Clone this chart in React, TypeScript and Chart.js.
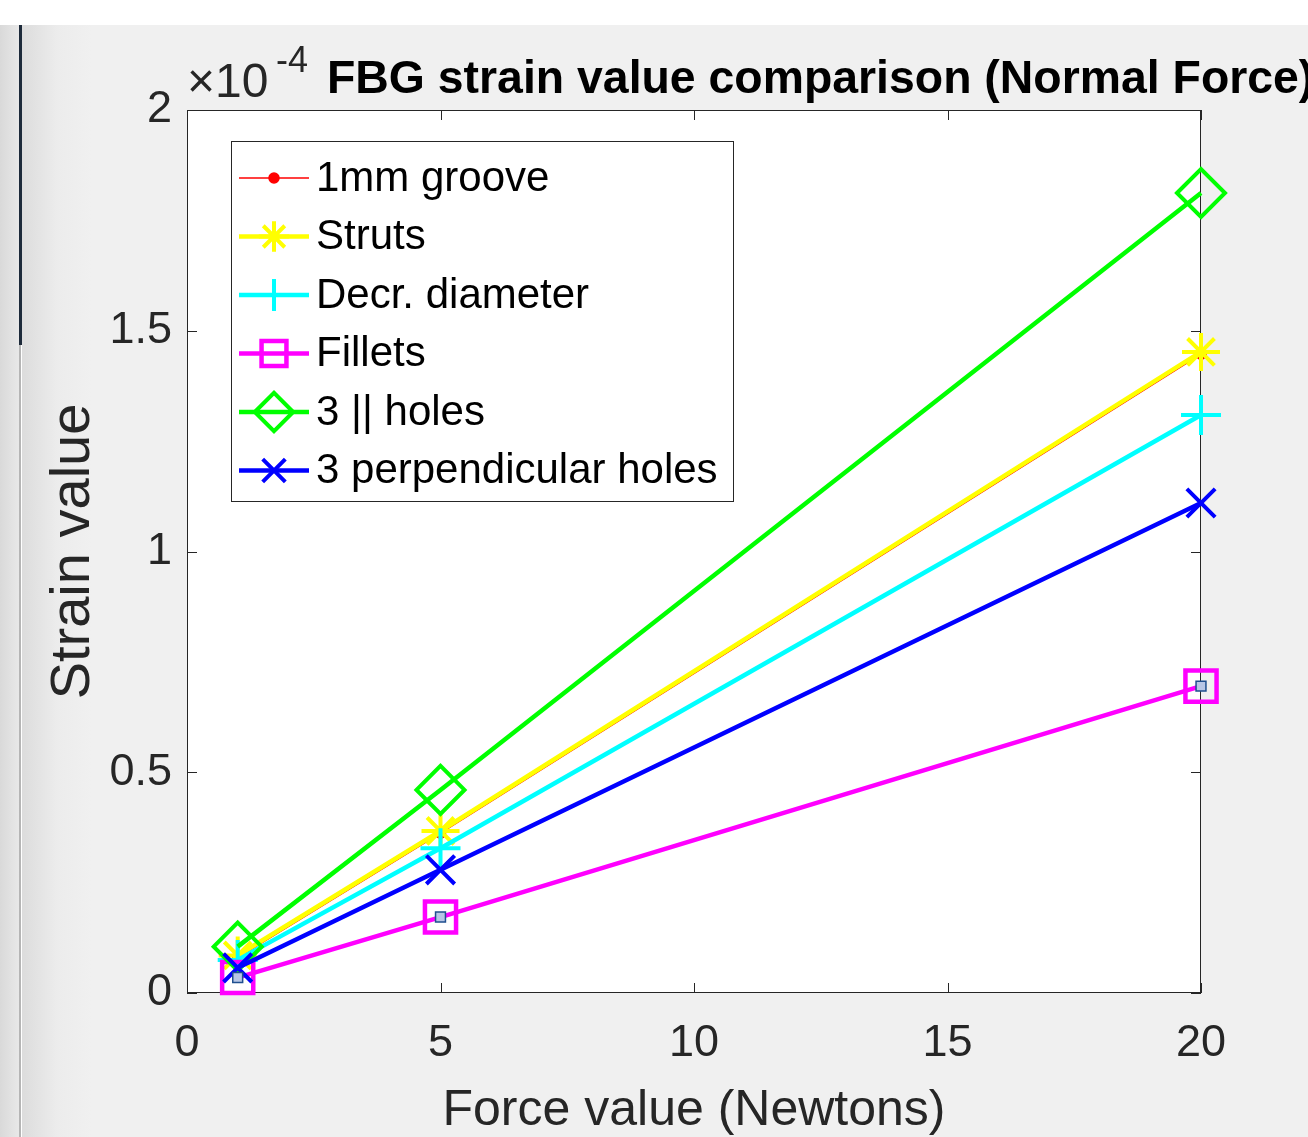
import React, { useEffect, useRef } from "react";
import { Chart, registerables } from "chart.js";
import { drawPoint } from "chart.js/helpers";

Chart.register(...registerables);

// ---- data (strain values in units of 1e-4) ----
const forces = [1, 5, 20];
const groove1mm = [0.08, 0.362, 1.447];
const struts = [0.085, 0.367, 1.452];
const decrDiameter = [0.075, 0.328, 1.309];
const fillets = [0.035, 0.172, 0.695];
const parallelHoles = [0.105, 0.46, 1.812];
const perpHoles = [0.057, 0.279, 1.11];
const seriesLabels = [
  "1mm groove",
  "Struts",
  "Decr. diameter",
  "Fillets",
  "3 || holes",
  "3 perpendicular holes",
];
const xTicks = [0, 5, 10, 15, 20];
const yTicks = [0, 0.5, 1, 1.5, 2];
const titleText = "FBG strain value comparison (Normal Force)";
const xTitle = "Force value (Newtons)";
const yTitle = "Strain value";

const FONT = "'Liberation Sans', Arial, Helvetica, sans-serif";
const AXIS_COLOR = "#262626";

const toPts = (ys: number[]) => forces.map((x, i) => ({ x, y: ys[i] }));

const styles = [
  { color: "#ff0000", style: "circle", radius: 5, bw: 1.5, lw: 1.5, fill: "#ff0000" },
  { color: "#ffff00", style: "star", radius: 19, bw: 4, lw: 4.5, fill: "transparent" },
  { color: "#00ffff", style: "cross", radius: 20, bw: 4, lw: 4.5, fill: "transparent" },
  { color: "#ff00ff", style: "rect", radius: 22, bw: 4.5, lw: 4.5, fill: "transparent" },
  { color: "#00ff00", style: "rectRot", radius: 24, bw: 4, lw: 4.5, fill: "transparent" },
  { color: "#0000ff", style: "crossRot", radius: 20, bw: 4, lw: 4.5, fill: "transparent" },
];
const seriesValues = [groove1mm, struts, decrDiameter, fillets, parallelHoles, perpHoles];

const decorPlugin = {
  id: "decor",
  beforeDatasetsDraw(chart: any) {
    const { ctx, chartArea: a } = chart;
    const xs = chart.scales.x;
    const ys = chart.scales.y;
    ctx.save();
    ctx.fillStyle = "#ffffff";
    ctx.fillRect(a.left, a.top, a.right - a.left, a.bottom - a.top);
    ctx.strokeStyle = AXIS_COLOR;
    ctx.lineWidth = 1;
    ctx.strokeRect(a.left + 0.5, a.top + 0.5, a.right - a.left - 1, a.bottom - a.top - 1);
    const tl = 10;
    ctx.beginPath();
    xTicks.forEach((v) => {
      const px = Math.round(xs.getPixelForValue(v)) + 0.5;
      ctx.moveTo(px, a.bottom);
      ctx.lineTo(px, a.bottom - tl);
      ctx.moveTo(px, a.top);
      ctx.lineTo(px, a.top + tl);
    });
    yTicks.forEach((v) => {
      const py = Math.round(ys.getPixelForValue(v)) + 0.5;
      ctx.moveTo(a.left, py);
      ctx.lineTo(a.left + tl, py);
      ctx.moveTo(a.right, py);
      ctx.lineTo(a.right - tl, py);
    });
    ctx.stroke();
    ctx.restore();
  },
  afterDatasetsDraw(chart: any) {
    const { ctx } = chart;
    // legend box
    const bx = 231, by = 141, bw = 502, bh = 360;
    ctx.save();
    ctx.fillStyle = "#ffffff";
    ctx.fillRect(bx, by, bw, bh);
    ctx.strokeStyle = AXIS_COLOR;
    ctx.lineWidth = 1;
    ctx.strokeRect(bx + 0.5, by + 0.5, bw, bh);
    const rowY0 = 178;
    const rowH = 58.5;
    chart.data.datasets.forEach((ds: any, i: number) => {
      if (ds.hiddenFromLegend) return;
      const y = rowY0 + i * rowH;
      const s = styles[i];
      ctx.strokeStyle = s.color;
      ctx.lineWidth = s.lw;
      ctx.beginPath();
      ctx.moveTo(239, y);
      ctx.lineTo(309, y);
      ctx.stroke();
      ctx.fillStyle = s.fill;
      ctx.lineWidth = s.bw;
      drawPoint(ctx, { pointStyle: s.style, rotation: 0, radius: s.style === "circle" ? 5 : s.radius * 0.8, borderWidth: s.bw } as any, 274, y);
      ctx.fillStyle = "#000000";
      ctx.font = `42px ${FONT}`;
      ctx.textAlign = "left";
      ctx.textBaseline = "middle";
      ctx.fillText(ds.label, 316, y + 1);
    });
    ctx.restore();
  },
  afterDraw(chart: any) {
    const { ctx } = chart;
    ctx.save();
    ctx.fillStyle = "#000000";
    ctx.textBaseline = "alphabetic";
    ctx.textAlign = "left";
    ctx.font = `bold 46.4px ${FONT}`;
    ctx.fillText(titleText, 327, 93);
    ctx.fillStyle = AXIS_COLOR;
    ctx.font = `48px ${FONT}`;
    ctx.fillText("\u00d710", 187, 97);
    ctx.font = `36px ${FONT}`;
    ctx.fillText("-4", 276, 72);
    ctx.restore();
  },
};

export default function App() {
  const ref = useRef<HTMLCanvasElement | null>(null);
  useEffect(() => {
    if (!ref.current) return;
    const datasets: any[] = seriesValues.map((vals, i) => {
      const s = styles[i];
      return {
        label: seriesLabels[i],
        data: toPts(vals),
        borderColor: s.color,
        backgroundColor: s.fill,
        borderWidth: s.lw,
        pointStyle: s.style,
        pointRadius: s.radius,
        pointBorderWidth: s.bw,
        pointBorderColor: s.color,
        pointBackgroundColor: s.fill,
        tension: 0,
        clip: false,
        order: 10 - i,
      };
    });
    datasets.push({
      label: "Fillets (inner)",
      hiddenFromLegend: true,
      data: toPts(fillets),
      showLine: false,
      pointStyle: "rect",
      pointRadius: 7,
      pointBorderWidth: 1.5,
      pointBorderColor: "#1f4f8f",
      pointBackgroundColor: "#b7c6e6",
      clip: false,
      order: 0,
    });
    const chart = new Chart(ref.current, {
      type: "line",
      data: { datasets },
      options: {
        animation: false,
        responsive: false,
        maintainAspectRatio: false,
        events: [],
        layout: { padding: { left: 0, top: 110, right: 107, bottom: 0 } },
        plugins: { legend: { display: false }, tooltip: { enabled: false }, title: { display: false } },
        scales: {
          x: {
            type: "linear",
            min: 0,
            max: 20,
            afterFit: (s: any) => { s.height = 144; },
            afterBuildTicks: (s: any) => { s.ticks = xTicks.map((v) => ({ value: v })); },
            grid: { display: false, drawTicks: false },
            border: { display: false },
            ticks: {
              color: AXIS_COLOR,
              padding: 24,
              maxRotation: 0,
              autoSkip: false,
              font: { family: FONT, size: 45 },
              callback: (v: any) => String(v),
            },
            title: {
              display: true,
              text: xTitle,
              color: AXIS_COLOR,
              font: { family: FONT, size: 50, lineHeight: 1 },
              padding: { top: 0, bottom: 1 },
            },
          },
          y: {
            type: "linear",
            min: 0,
            max: 2,
            afterFit: (s: any) => { s.width = 187; },
            afterBuildTicks: (s: any) => { s.ticks = yTicks.map((v) => ({ value: v })); },
            grid: { display: false, drawTicks: false },
            border: { display: false },
            ticks: {
              color: AXIS_COLOR,
              padding: 15,
              autoSkip: false,
              font: { family: FONT, size: 45 },
              callback: (v: any) => String(v),
            },
            title: {
              display: true,
              text: yTitle,
              color: AXIS_COLOR,
              font: { family: FONT, size: 56, lineHeight: 1 },
              padding: { top: 46, bottom: 0 },
            },
          },
        },
      },
      plugins: [decorPlugin],
    } as any);
    return () => chart.destroy();
  }, []);

  return (
    <div style={{ position: "absolute", left: 0, top: 0, width: 1308, height: 1137, background: "#ffffff", overflow: "hidden" }}>
      <div style={{ position: "absolute", left: 0, top: 25, width: 20, height: 1112, background: "linear-gradient(to right, #d9d9d9, #e9e9e9)" }} />
      <div style={{ position: "absolute", left: 19, top: 25, width: 3, height: 320, background: "#1d2a3a" }} />
      <div style={{ position: "absolute", left: 19, top: 345, width: 2, height: 792, background: "#b5b5b5" }} />
      <div style={{ position: "absolute", left: 22, top: 25, width: 1286, height: 1112, background: "linear-gradient(to right, #dcdcdc 0px, #ececec 35px, #f0f0f0 70px, #f0f0f0 100%)" }} />
      <canvas ref={ref} width={1308} height={1137} style={{ position: "absolute", left: 0, top: 0, width: 1308, height: 1137 }} />
    </div>
  );
}
